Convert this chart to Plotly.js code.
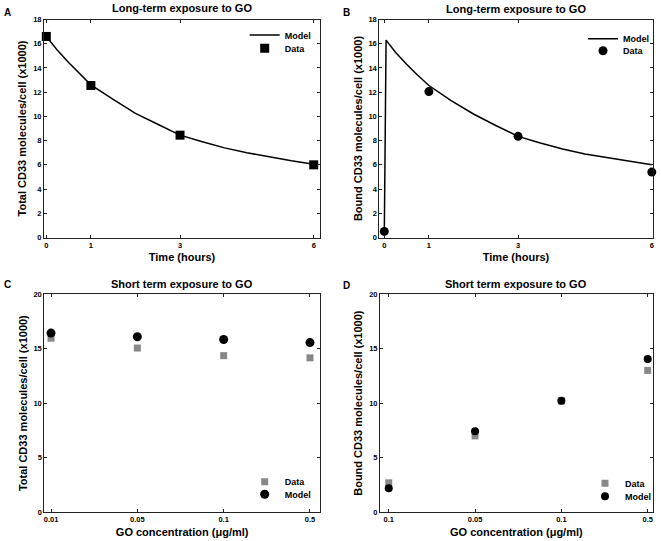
<!DOCTYPE html>
<html>
<head>
<meta charset="utf-8">
<script src="https://cdn.plot.ly/plotly-3.0.1.min.js"></script>
<style>html,body{margin:0;padding:0;background:#fff;overflow:hidden;width:661px;height:541px;}#chart{width:700px;height:541px;}</style>
</head>
<body>
<div id="chart"></div>
<script>
// Panel A: total CD33, long-term exposure
const timeTicks = [0, 1, 3, 6];
const tA_model = [0, 0.25, 0.5, 0.75, 1, 1.5, 2, 2.5, 3, 3.5, 4, 4.5, 5, 5.5, 6];
const yA_model = [16.6, 15.45, 14.45, 13.5, 12.6, 11.4, 10.25, 9.35, 8.45, 7.9, 7.4, 7.0, 6.65, 6.33, 6.05];
const tA_data = [0, 1, 3, 6];
const yA_data = [16.6, 12.55, 8.45, 6.0];

// Panel B: bound CD33, long-term exposure
const tB_model = [0, 0.04, 0.25, 0.5, 0.75, 1, 1.5, 2, 2.5, 3, 3.5, 4, 4.5, 5, 5.5, 6];
const yB_model = [0.2, 16.3, 15.3, 14.3, 13.4, 12.55, 11.3, 10.2, 9.25, 8.35, 7.8, 7.3, 6.9, 6.6, 6.3, 6.0];
const tB_data = [0, 1, 3, 6];
const yB_data = [0.5, 12.05, 8.35, 5.4];

// Panel C: total CD33, short-term exposure
const concC = ["0.01", "0.05", "0.1", "0.5"];
const yC_data = [15.95, 15.05, 14.35, 14.15];
const yC_model = [16.42, 16.08, 15.83, 15.55];

// Panel D: bound CD33, short-term exposure
const concD = ["0.1", "0.05", "0.1", "0.5"];
const yD_data = [2.7, 7.0, 10.2, 13.0];
const yD_model = [2.2, 7.42, 10.22, 14.05];

const idxC = concC.map((_, i) => i);
const idxD = concD.map((_, i) => i);

const FF = "Liberation Sans, Arial, sans-serif";
const GRAY = "#888888";

// layout is a little wider than the visible page so the right-hand legends are not clamped
const W = 700, H = 541;
function px(v, total) { return v / total; }

const traces = [
  {x: tA_model, y: yA_model, mode: "lines", name: "Model", line: {color: "#000", width: 1.5},
   xaxis: "x", yaxis: "y", legend: "legend"},
  {x: tA_data, y: yA_data, mode: "markers", name: "Data", marker: {symbol: "square", size: 9, color: "#000"},
   xaxis: "x", yaxis: "y", legend: "legend2", cliponaxis: false},
  {x: tB_model, y: yB_model, mode: "lines", name: "Model", line: {color: "#000", width: 1.5},
   xaxis: "x2", yaxis: "y2", legend: "legend3"},
  {x: tB_data, y: yB_data, mode: "markers", name: "Data", marker: {symbol: "circle", size: 9, color: "#000"},
   xaxis: "x2", yaxis: "y2", legend: "legend4", cliponaxis: false},
  {x: idxC, y: yC_data, mode: "markers", name: "Data", marker: {symbol: "square", size: 7, color: GRAY},
   xaxis: "x3", yaxis: "y3", legend: "legend5", cliponaxis: false},
  {x: idxC, y: yC_model, mode: "markers", name: "Model", marker: {symbol: "circle", size: 9, color: "#000"},
   xaxis: "x3", yaxis: "y3", legend: "legend6", cliponaxis: false},
  {x: idxD, y: yD_data, mode: "markers", name: "Data", marker: {symbol: "square", size: 7, color: GRAY},
   xaxis: "x4", yaxis: "y4", legend: "legend7", cliponaxis: false},
  {x: idxD, y: yD_model, mode: "markers", name: "Model", marker: {symbol: "circle", size: 8, color: "#000"},
   xaxis: "x4", yaxis: "y4", legend: "legend8", cliponaxis: false}
];

const tickFont = {family: FF, size: 7.5, color: "#000", weight: "bold"};
const titleFont = {family: FF, size: 11, color: "#000", weight: "bold"};

function xax(anchor, dom, range, tickvals, ticktext, title, standoff) {
  return {anchor: anchor, domain: dom, range: range, tickmode: "array", tickvals: tickvals, ticktext: ticktext,
    showline: true, linecolor: "#222", linewidth: 1, mirror: "ticks", ticks: "inside", ticklen: 3,
    tickcolor: "#222", tickwidth: 1, showgrid: false, zeroline: false, tickfont: tickFont,
    title: {text: title, font: titleFont, standoff: standoff}, fixedrange: true};
}
function yax(anchor, dom, range, dtick, title) {
  return {anchor: anchor, domain: dom, range: range, tickmode: "linear", tick0: 0, dtick: dtick,
    showline: true, linecolor: "#222", linewidth: 1, mirror: "ticks", ticks: "inside", ticklen: 3,
    tickcolor: "#222", tickwidth: 1, showgrid: false, zeroline: false, tickfont: tickFont,
    title: {text: title, font: titleFont, standoff: 3.5}, fixedrange: true};
}

const domXA = [px(44, W), px(320, W)];
const domXB = [px(379.3, W), px(652.7, W)];
const domXC = [px(44.3, W), px(320, W)];
const domXD = [px(380, W), px(652.7, W)];
const domYTop = [1 - px(237.5, H), 1 - px(19.5, H)];
const domYBot = [1 - px(512.3, H), 1 - px(294, H)];

function leg(xc, yc) {
  return {x: px(xc - 21, W), y: 1 - px(yc, H), xanchor: "left", yanchor: "middle",
    bgcolor: "rgba(0,0,0,0)", borderwidth: 0, font: {family: FF, size: 9, color: "#000", weight: "bold"},
    itemclick: false, itemdoubleclick: false};
}

function ann(text, x, y, size) {
  return {text: text, x: px(x, W), y: 1 - px(y, H), xref: "paper", yref: "paper",
    xanchor: "center", yanchor: "middle", showarrow: false,
    font: {family: FF, size: size, color: "#000", weight: "bold"}};
}

const layout = {
  width: W, height: H,
  margin: {l: 0, r: 0, t: 0, b: 0},
  paper_bgcolor: "#fff", plot_bgcolor: "#fff",
  showlegend: true,
  xaxis: xax("y", domXA, [-0.052, 6.141], timeTicks, timeTicks.map(String), "Time (hours)", 4),
  yaxis: yax("x", domYTop, [0, 18], 2, "Total CD33 molecules/cell (x1000)"),
  xaxis2: xax("y2", domXB, [-0.112, 6.02], timeTicks, timeTicks.map(String), "Time (hours)", 4),
  yaxis2: yax("x2", domYTop, [0, 18], 2, "Bound CD33 molecules/cell (x1000)"),
  xaxis3: xax("y3", domXC, [-0.078, 3.116], idxC, concC, "GO concentration (μg/ml)", 5),
  yaxis3: yax("x3", domYBot, [0, 20], 5, "Total CD33 molecules/cell (x1000)"),
  xaxis4: xax("y4", domXD, [-0.101, 3.058], idxD, concD, "GO concentration (μg/ml)", 5),
  yaxis4: yax("x4", domYBot, [0, 20], 5, "Bound CD33 molecules/cell (x1000)"),
  legend: leg(265.7, 35),
  legend2: leg(265.7, 48.3),
  legend3: leg(604, 38.7),
  legend4: leg(604, 50.7),
  legend5: leg(265.7, 481.7),
  legend6: leg(265.7, 494.3),
  legend7: leg(606, 483.3),
  legend8: leg(606, 496.3),
  annotations: [
    ann("Long-term exposure to GO", 182, 8.5, 11),
    ann("Long-term exposure to GO", 516, 9, 11),
    ann("Short term exposure to GO", 182, 283.5, 11),
    ann("Short term exposure to GO", 516, 284, 11),
    ann("A", 7, 13, 10),
    ann("B", 346, 12.7, 10),
    ann("C", 7, 284, 10),
    ann("D", 346, 285, 10)
  ]
};

Plotly.newPlot("chart", traces, layout, {staticPlot: true, displayModeBar: false});
</script>
</body>
</html>
